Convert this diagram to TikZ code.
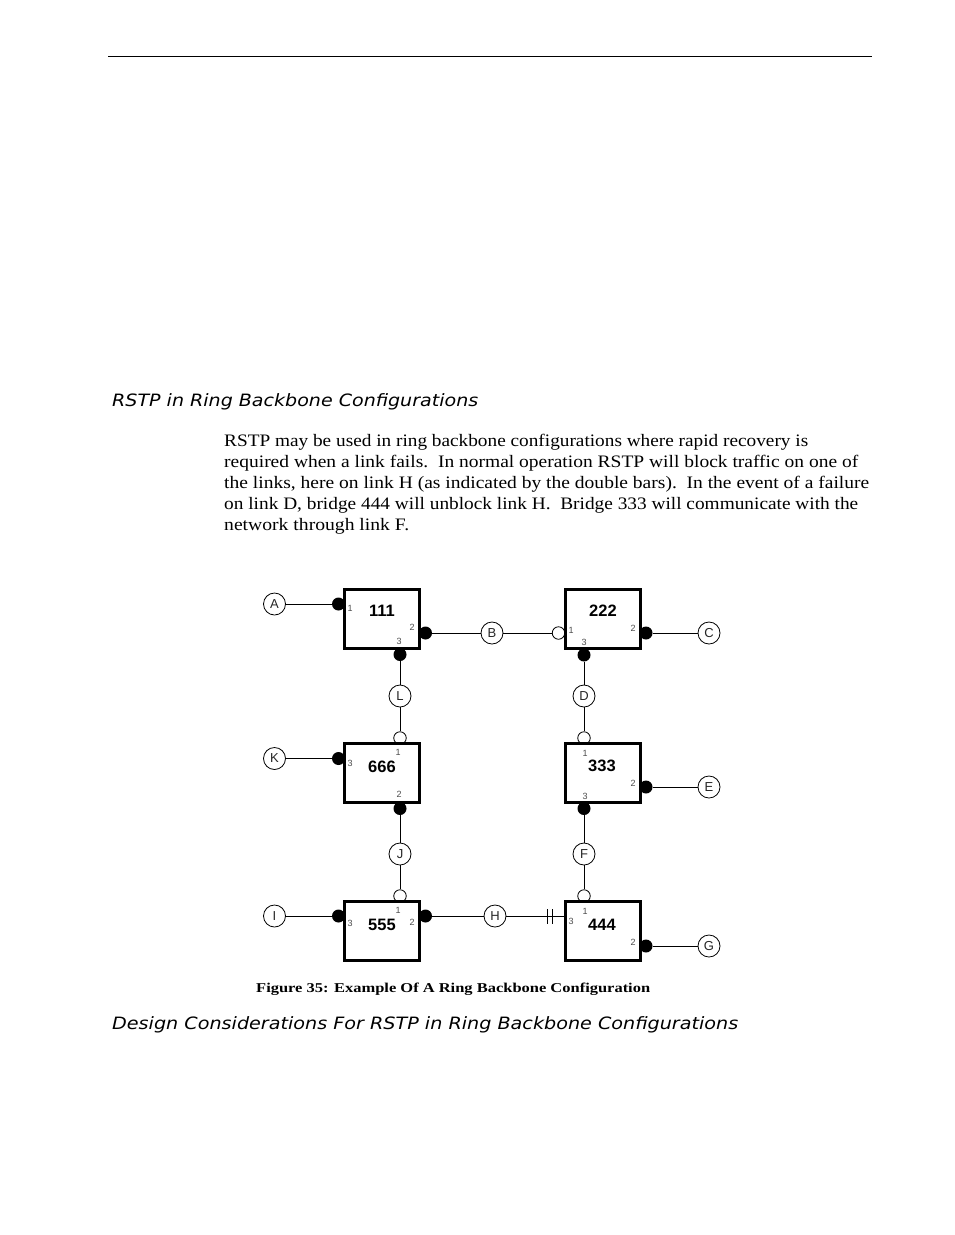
\documentclass[tikz,border=0pt]{standalone}
\usepackage{fontspec}
\setmainfont{Liberation Serif}
\newfontfamily\hfont{DejaVu Sans}[ItalicFont=* Oblique]
\newfontfamily\afont{Liberation Sans}
\begin{document}
\begin{tikzpicture}[x=1pt,y=-1pt,
  bridge/.style={draw,line width=3pt,fill=white,minimum width=75pt,minimum height=59pt,inner sep=0pt},
  lbl/.style={circle,draw,line width=0.8pt,fill=white,minimum size=22pt,inner sep=0pt,text=black!85,font=\afont\fontsize{13}{13}\selectfont},
  pf/.style={circle,fill=black,minimum size=13pt,inner sep=0pt},
  ph/.style={circle,draw,line width=0.8pt,fill=white,minimum size=12.5pt,inner sep=0pt},
  pn/.style={font=\afont\fontsize{9}{9}\selectfont,text=black!70,inner sep=0pt},
  bnum/.style={font=\afont\bfseries\fontsize{16.5}{16.5}\selectfont,inner sep=0pt},
  wire/.style={line width=0.9pt},
  para/.style={anchor=base west,inner sep=0pt,font=\fontsize{17.5}{17.5}\selectfont},
  head/.style={anchor=base west,inner sep=0pt,font=\hfont\itshape\fontsize{17}{17}\selectfont},
  ]
\path[use as bounding box,fill=white] (0,0) rectangle (954,1235);

% top rule
\coordinate (r1) at (108,56);
\coordinate (r2) at (872,56);
\draw[line width=1pt] (r1) -- (r2);

% texts
\node[head] (h1) at (112,406) {\resizebox{366pt}{\height}{RSTP in Ring Backbone Configurations}};
\node[para] (t1) at (224,446.5) {\resizebox{584pt}{\height}{RSTP may be used in ring backbone configurations where rapid recovery is}};
\node[para] (t2) at (224,467.5) {\resizebox{634pt}{\height}{required when a link fails.\ \ In normal operation RSTP will block traffic on one of}};
\node[para] (t3) at (224,488.5) {\resizebox{645pt}{\height}{the links, here on link H (as indicated by the double bars).\ \ In the event of a failure}};
\node[para] (t4) at (224,509.5) {\resizebox{634pt}{\height}{on link D, bridge 444 will unblock link H.\ \ Bridge 333 will communicate with the}};
\node[para] (t5) at (224,530.5) {\resizebox{185pt}{\height}{network through link F.}};
\node[anchor=base west,inner sep=0pt,font=\bfseries\fontsize{13.5}{13.5}\selectfont] (cap) at (256,992) {\resizebox{394pt}{\height}{Figure 35: Example Of A Ring Backbone Configuration}};
\node[head] (h2) at (112,1029) {\resizebox{626pt}{\height}{Design Considerations For RSTP in Ring Backbone Configurations}};

% port dots
\node[pf] (p111a) at (338.5,604) {};
\node[pf] (p111b) at (425.5,633) {};
\node[pf] (p111c) at (400,654.5) {};
\node[ph] (p222a) at (558.5,633) {};
\node[pf] (p222b) at (646,633) {};
\node[pf] (p222c) at (584,655) {};
\node[ph] (p666a) at (400,738) {};
\node[pf] (p666b) at (400,808.5) {};
\node[pf] (p666c) at (338.5,758.5) {};
\node[ph] (p333a) at (584,738) {};
\node[pf] (p333b) at (646,787) {};
\node[pf] (p333c) at (584,808.5) {};
\node[ph] (p555a) at (400,896) {};
\node[pf] (p555b) at (425.5,916) {};
\node[pf] (p555c) at (338.5,916) {};
\node[ph] (p444a) at (584,896) {};
\node[pf] (p444b) at (646,946) {};

% link labels
\node[lbl] (A) at (274.5,604) {A};
\node[lbl] (B) at (492,633) {B};
\node[lbl] (C) at (709,633) {C};
\node[lbl] (L) at (400,696) {L};
\node[lbl] (D) at (584,696) {D};
\node[lbl] (K) at (274.5,758.5) {K};
\node[lbl] (E) at (709,787) {E};
\node[lbl] (J) at (400,854) {J};
\node[lbl] (F) at (584,854) {F};
\node[lbl] (I) at (274.5,916) {I};
\node[lbl] (H) at (495,916) {H};
\node[lbl] (G) at (709,946) {G};

% bridges
\node[bridge] (b111) at (382,618.5) {};
\node[bridge] (b222) at (603,618.5) {};
\node[bridge] (b666) at (382,773) {};
\node[bridge] (b333) at (603,773) {};
\node[bridge] (b555) at (382,931) {};
\node[bridge] (b444) at (603,931) {};

% wires
\draw[wire] (A) -- (p111a);
\draw[wire] (p111b) -- (B);
\draw[wire] (B) -- (p222a);
\draw[wire] (p222b) -- (C);
\draw[wire] (p111c) -- (L);
\draw[wire] (L) -- (p666a);
\draw[wire] (p222c) -- (D);
\draw[wire] (D) -- (p333a);
\draw[wire] (K) -- (p666c);
\draw[wire] (p333b) -- (E);
\draw[wire] (p666b) -- (J);
\draw[wire] (J) -- (p555a);
\draw[wire] (p333c) -- (F);
\draw[wire] (F) -- (p444a);
\draw[wire] (I) -- (p555c);
\draw[wire] (p555b) -- (H);
\coordinate (hend) at (b444.west |- H);
\draw[wire] (H) -- (hend);
\coordinate (bar1) at (547,916);
\coordinate (bar2) at (552,916);
\draw[wire] ([yshift=-7.5pt]bar1) -- ([yshift=7.5pt]bar1);
\draw[wire] ([yshift=-7.5pt]bar2) -- ([yshift=7.5pt]bar2);
\draw[wire] (p444b) -- (G);

% bridge numbers
\node[bnum] (n111) at (382,611) {111};
\node[bnum] (n222) at (603,611) {222};
\node[bnum] (n666) at (382,767) {666};
\node[bnum] (n333) at (602,766) {333};
\node[bnum] (n555) at (382,925) {555};
\node[bnum] (n444) at (602,925) {444};

% port numbers
\node[pn] at (350,608) {1};
\node[pn] at (412,627) {2};
\node[pn] at (399,641) {3};
\node[pn] at (571,630) {1};
\node[pn] at (633,628) {2};
\node[pn] at (584,642) {3};
\node[pn] at (398,752) {1};
\node[pn] at (350,763) {3};
\node[pn] at (399,794) {2};
\node[pn] at (585,753) {1};
\node[pn] at (633,783) {2};
\node[pn] at (585,796) {3};
\node[pn] at (398,910) {1};
\node[pn] at (350,923) {3};
\node[pn] at (412,922) {2};
\node[pn] at (585,911) {1};
\node[pn] at (571,921) {3};
\node[pn] at (633,942) {2};
\end{tikzpicture}
\end{document}
